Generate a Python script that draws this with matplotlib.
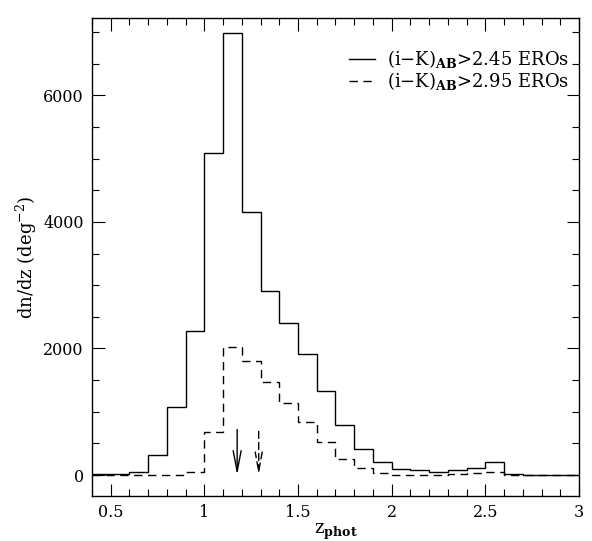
import matplotlib.pyplot as plt
import numpy as np

plt.rcParams['font.family'] = 'DejaVu Serif'
plt.rcParams['font.size'] = 11.5
plt.rcParams['mathtext.fontset'] = 'dejavuserif'

# Data: dn/dz in bins of 0.1 from z=0.4 to 3.0
edges = np.round(np.arange(0.4, 3.001, 0.1), 2)
eros_245 = [10, 20, 55, 310, 1080, 2270, 5095, 6980, 4150, 2910, 2395, 1920, 1325, 790,
            405, 205, 95, 80, 45, 75, 120, 200, 10, 5, 5, 5]
eros_295 = [0, 5, 0, 0, 0, 42, 685, 2030, 1805, 1475, 1140, 845, 515, 255,
            105, 26, 5, 5, 5, 10, 30, 47, 0, 0, 0, 0]
# median redshifts marked by arrows
z_med_245 = 1.175
z_med_295 = 1.29

fig = plt.figure(figsize=(5.92, 5.41), dpi=100)
ax = fig.add_axes([0.1554, 0.0832, 0.8226, 0.8835])

ax.stairs(eros_245, edges, baseline=None, color='black', linewidth=1.0,
          label=r'(i$-$K)$_{\mathbf{AB}}$>2.45 EROs')
ax.stairs(eros_295, edges, baseline=None, color='black', linewidth=1.0,
          linestyle=(0, (6, 4)), label=r'(i$-$K)$_{\mathbf{AB}}$>2.95 EROs')

# arrows
ax.annotate('', xy=(z_med_245, 0), xytext=(z_med_245, 720),
            arrowprops=dict(arrowstyle='->, head_length=1.3, head_width=0.25',
                            color='black', lw=1.0, shrinkA=0, shrinkB=0))
ax.annotate('', xy=(z_med_295, 0), xytext=(z_med_295, 690),
            arrowprops=dict(arrowstyle='->, head_length=1.2, head_width=0.22',
                            color='black', lw=1.0, linestyle=(0, (5, 3)),
                            shrinkA=0, shrinkB=0))

ax.set_xlim(0.4, 3.0)
ax.set_ylim(-330, 7220)
ax.set_xticks([0.5, 1, 1.5, 2, 2.5, 3])
ax.set_xticklabels(['0.5', '1', '1.5', '2', '2.5', '3'])
ax.set_xticks(np.arange(0.4, 3.001, 0.1), minor=True)
ax.set_yticks([0, 2000, 4000, 6000])
ax.set_yticks(np.arange(0, 7001, 500), minor=True)

ax.tick_params(which='both', direction='in', top=True, right=True, width=0.8)
ax.tick_params(which='major', length=9, pad=6)
ax.tick_params(which='minor', length=5)
for s in ax.spines.values():
    s.set_linewidth(1.0)

ax.set_xlabel(r'z$_{\mathbf{phot}}$', fontsize=13, labelpad=0)
ax.set_ylabel(r'dn/dz (deg$^{-2}$)', fontsize=13, labelpad=3)

ax.legend(loc='upper right', bbox_to_anchor=(1.0, 0.958), frameon=False,
          handlelength=1.45, handletextpad=0.65, labelspacing=0.0, fontsize=13,
          borderaxespad=0.15)

plt.savefig('out.png', dpi=100)
